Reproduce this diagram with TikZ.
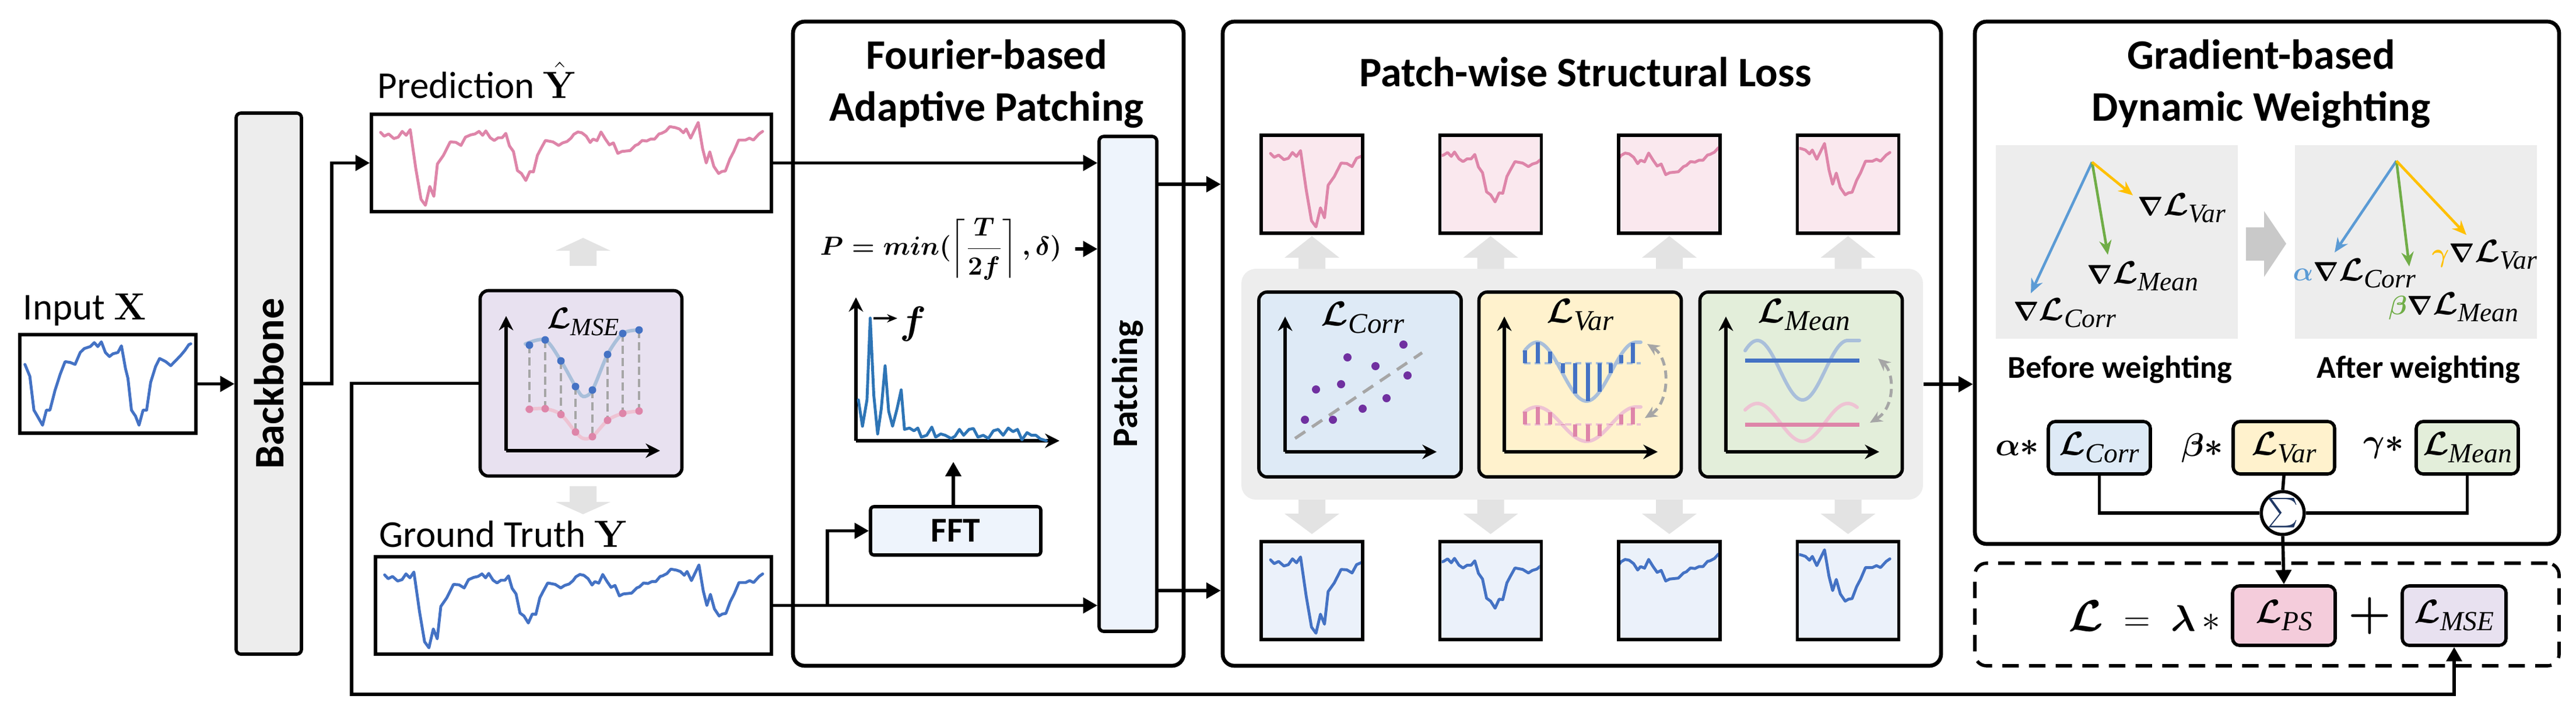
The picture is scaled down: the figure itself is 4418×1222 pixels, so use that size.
\RequirePackage{fix-cm}
\documentclass[tikz,border=0pt]{standalone}
\usepackage{amsmath}
\usepackage{graphicx}
\usepackage[no-math]{fontspec}
\setmainfont{Carlito}
\newfontfamily\subfont{Liberation Serif}
\usetikzlibrary{positioning, arrows.meta}

\definecolor{seriesblue}{HTML}{4472C4}
\definecolor{seriespink}{HTML}{DE85A9}
\definecolor{dotpurple}{HTML}{7030A0}
\definecolor{msefill}{HTML}{E8E1F0}
\definecolor{corrfill}{HTML}{DEEAF6}
\definecolor{varfill}{HTML}{FFF2CD}
\definecolor{meanfill}{HTML}{E3EEDA}
\definecolor{pinkpatch}{HTML}{FAE8EE}
\definecolor{bluepatch}{HTML}{EBF1FA}
\definecolor{patchfill}{HTML}{EEF4FC}
\definecolor{bbfill}{HTML}{EDEDED}
\definecolor{arrowgray}{HTML}{E3E3E3}
\definecolor{bggray}{HTML}{EDEDED}
\definecolor{bigarrow}{HTML}{C9C9C9}
\definecolor{psfill}{HTML}{F4CCDB}
\definecolor{gradblue}{HTML}{5B9BD5}
\definecolor{gradgreen}{HTML}{70AD47}
\definecolor{gradyellow}{HTML}{FFC000}
\definecolor{specblue}{HTML}{2E75B6}
\definecolor{dashgray}{HTML}{A6A6A6}
\definecolor{sumnavy}{HTML}{203864}
\definecolor{waveblue}{HTML}{A9BFDA}
\definecolor{wavepink}{HTML}{EEC3D3}

\tikzset{
  framebox/.style={draw, line width=1.6pt, inner sep=0pt},
  panel/.style={draw, line width=1.9pt, rounded corners=2mm, inner sep=0pt},
  wire/.style={line width=1.6pt},
  conn/.style={line width=1.6pt, -{Triangle[length=7pt,width=7.5pt]}},
  axisline/.style={line width=1.5pt, -{Stealth[length=7pt,width=7pt]}},
  series/.style={line width=1.4pt, line join=round, line cap=round},
  wave/.style={line width=1.7pt, line cap=round},
  curvedash/.style={dashgray, line width=1.4pt, dash pattern=on 4pt off 2.5pt,
    {Stealth[length=6pt,width=5.5pt]}-{Stealth[length=6pt,width=5.5pt]}},
  gradarrow/.style={line width=1.3pt, -{Stealth[length=7pt,width=6pt]}},
  boxlabel/.style={inner sep=0pt, anchor=base west, font=\fontsize{18.5}{20}\selectfont},
  titletext/.style={inner sep=0pt, anchor=base, font=\titlefont},
  losstitle/.style={inner sep=0pt, font=\fontsize{14}{16}\selectfont},
  gradlabel/.style={inner sep=0pt, font=\fontsize{13}{15}\selectfont},
  coef/.style={inner sep=0pt, font=\fontsize{16}{18}\selectfont},
  termbox/.style={framebox, rounded corners=1.2mm, font=\fontsize{13.5}{15}\selectfont}
}

% script L with an italic subscript
\newcommand\Lsub[1]{\scalebox{1.2}{$\boldsymbol{\mathcal{L}}$}\raisebox{-0.28em}{\subfont\itshape #1}}
\newcommand\titlefont{\fontsize{20.5}{24}\selectfont\bfseries}
% light gray block arrow: x, tail y, neck y, tip y
\newcommand\GrayArrow[4]{%
  \fill[arrowgray] (#1-23,#2) -- (#1-23,#3) -- (#1-47,#3) -- (#1,#4)
    -- (#1+47,#3) -- (#1+23,#3) -- (#1+23,#2) -- cycle;
}
% the forecast series, in a 100 x 100 box
\newcommand\DrawSeries[1]{%
  \draw[series,#1] plot coordinates {(2.3,18.6) (3.2,22.5) (4.3,20.2) (5.6,24.9)
    (6.7,23.5) (7.7,17.6) (8.7,21.6) (9.7,15.7) (11.1,55.9) (12.4,87.3) (13.5,93.5)
    (14.6,74.1) (15.6,84.3) (16.5,51.0) (18.0,42.2) (19.7,28.4) (21.1,28.8) (22.4,32.0)
    (23.5,23.5) (24.8,21.2) (25.9,20.2) (26.9,17.6) (27.8,21.6) (28.6,17.1) (29.7,24.1)
    (30.7,26.9) (31.7,24.1) (32.7,24.1) (33.6,19.6) (34.5,32.4) (35.5,38.2) (36.5,57.8)
    (37.5,60.8) (38.6,68.0) (39.6,58.8) (40.5,59.2) (41.5,42.2) (42.3,35.9) (43.5,26.9)
    (45.4,28.4) (46.8,32.0) (47.8,29.4) (48.9,28.0) (49.9,24.5) (50.6,20.6) (51.6,18.2)
    (52.6,19.0) (53.7,22.5) (54.7,29.0) (55.4,25.5) (56.4,27.1) (57.4,18.2) (58.5,25.5)
    (59.5,31.4) (60.5,29.4) (61.6,40.2) (62.6,38.2) (64.7,37.3) (66.0,32.0) (66.7,30.8)
    (67.7,26.9) (68.8,27.5) (69.8,25.5) (70.8,25.5) (71.9,20.2) (72.5,19.6) (73.6,17.3)
    (74.6,12.7) (76.0,13.7) (77.0,15.1) (78.0,19.0) (78.7,15.1) (79.8,24.5) (81.7,8.4)
    (82.8,35.3) (83.7,50.0) (84.6,38.6) (85.6,53.5) (86.8,60.8) (87.6,58.8) (88.5,58.2)
    (89.6,46.1) (90.6,38.2) (91.8,26.5) (93.5,26.5) (94.5,24.5) (95.5,26.5) (96.9,20.2)
    (97.8,17.6)};
}
% one quarter of the series in a patch: left x, top y, quarter, colour
\newcommand\DrawPatch[4]{%
  \begin{scope}
    \clip (#1+3,#2+3) rectangle (#1+171,#2+165);
    \begin{scope}[shift={(#1-#3*174,#2)}, xscale=6.96, yscale=1.68]
      \DrawSeries{#4}
    \end{scope}
  \end{scope}
}

\begin{document}
\begin{tikzpicture}[x=0.1mm, y=-0.1mm, font=\fontsize{17}{20}\selectfont]
\path[use as bounding box] (0,0) rectangle (4418,1222);

% input and backbone
\node[framebox, minimum width=30.2mm, minimum height=16.9mm] (inbox) at (185,658.5) {};
\node[boxlabel] (inlabel) at (39,548) {Input $\mathbf{X}$};
\begin{scope}[shift={(34,574)}, xscale=3.02, yscale=1.69]
  \draw[series, seriesblue] plot coordinates {(2.9,30.2) (5.7,42.3) (8.0,76.6) (10.0,82.7)
    (12.9,91.9) (15.1,76.6) (17.1,76.6) (20.0,56.5) (22.9,40.3) (25.7,27.4) (28.6,28.2)
    (31.4,30.2) (34.3,18.1) (36.6,14.1) (40.0,12.1) (42.3,8.1) (44.3,12.1) (46.3,7.3)
    (48.6,18.1) (50.9,22.2) (52.9,19.4) (55.7,18.1) (57.7,11.3) (60.0,34.3) (61.4,44.4)
    (63.4,76.6) (65.7,82.7) (67.7,91.9) (70.0,76.6) (72.0,76.6) (74.3,48.4) (77.1,32.3)
    (79.4,24.2) (82.9,27.4) (85.7,31.5) (88.6,26.2) (91.4,21.0) (93.7,16.1) (96.0,10.1)
    (97.1,9.3)};
\end{scope}
\node[framebox, fill=bbfill, rounded corners=0.8mm, minimum width=11.2mm, minimum height=92.8mm] (backbone) at (461,658) {};
\node[rotate=90, font=\titlefont] (bbtext) at (backbone) {Backbone};
\draw[conn] (inbox.east) -- (inbox.east -| backbone.west);

% prediction and ground truth
\node[framebox, minimum width=68.6mm, minimum height=16.7mm] (pred) at (980,279.5) {};
\node[boxlabel] (predlabel) at (647,168) {Prediction $\hat{\mathbf{Y}}$};
\begin{scope}[shift={(637,196)}, xscale=6.86, yscale=1.67]
  \DrawSeries{seriespink}
\end{scope}
\node[framebox, minimum width=67.9mm, minimum height=16.7mm] (gt) at (983.5,1038.5) {};
\node[boxlabel] (gtlabel) at (650,938) {Ground Truth $\mathbf{Y}$};
\begin{scope}[shift={(644,955)}, xscale=6.79, yscale=1.67]
  \DrawSeries{seriesblue}
\end{scope}
\draw[conn] (backbone.east) -- ++(49,0) |- (pred.west);

% MSE loss
\GrayArrow{1000}{456}{430}{408}
\GrayArrow{1000}{834}{861}{882}
\node[framebox, fill=msefill, rounded corners=1.4mm, minimum width=34.6mm, minimum height=31.8mm] (mse) at (996.5,657.5) {};
\draw[axisline] (868,773) -- (868,542);
\draw[axisline] (868,773) -- (1132,773);
\draw[wave, waveblue] plot[smooth] coordinates {(901,590) (935,583) (962,619) (987,663) (1000,680) (1016,669) (1042,608) (1068,572) (1096,566)};
\draw[wave, wavepink] plot[smooth] coordinates {(903,702) (935,701) (962,711) (987,741) (1000,752) (1016,749) (1042,721) (1068,709) (1096,705)};
\foreach \xp/\ya/\yb in {908/592/702, 935/583/701, 962/619/711, 987/663/741, 1016/669/749, 1042/608/721, 1068/572/709, 1096/566/705} {
  \draw[dashgray, line width=1.2pt, dash pattern=on 4pt off 2pt] (\xp,\ya) -- (\xp,\yb);
  \fill[seriesblue] (\xp,\ya) circle (6.5);
  \fill[seriespink] (\xp,\yb) circle (6.5);
}
\node[losstitle, font=\fontsize{12.2}{14}\selectfont] (msetitle) at (1000,552) {\Lsub{MSE}};

% Fourier-based adaptive patching
\node[panel, minimum width=67mm, minimum height=110.5mm] (fourier) at (1695,589.5) {};
\node[titletext] (ftitle1) at (1692,118) {Fourier-based};
\node[titletext] (ftitle2) at (1692,207) {Adaptive Patching};
\node[framebox, fill=patchfill, rounded corners=0.8mm, minimum width=9.9mm, minimum height=84.9mm] (patching) at (1934.5,658.5) {};
\node[rotate=90, font=\fontsize{17.5}{20}\selectfont\bfseries] (patchtext) at (patching) {Patching};
\node[inner sep=0pt, anchor=west, font=\fontsize{12.8}{15}\selectfont] (formula) at (1406,427) {$\displaystyle\boldsymbol{P = min(\left\lceil\frac{T}{2f}\right\rceil, \delta)}$};
\node[framebox, fill=patchfill, rounded corners=0.6mm, minimum width=29.2mm, minimum height=8.3mm, font=\fontsize{17}{20}\selectfont\bfseries] (fft) at (1639,910.5) {FFT};
\begin{scope}[shift={(1468,756)}]
  \draw[axisline] (0,0) -- (0,-246);
  \draw[axisline] (0,0) -- (349,0);
  \draw[series, specblue] plot coordinates {(4.1,-70.1) (11.2,-24.9) (18.9,-70.1) (24.5,-210.4)
    (30.6,-77.9) (37.2,-11.7) (43.4,-54.6) (50.0,-128.6) (56.1,-50.7) (62.8,-24.9) (70.4,-54.6)
    (77.6,-87.3) (83.2,-19.5) (91.8,-21.8) (99.5,-17.1) (106.1,-21.8) (112.2,-6.2) (121.4,-9.4)
    (130.1,-23.4) (136.7,-6.2) (145.4,-11.7) (153.1,-9.4) (163.3,-3.9) (169.9,-7.8) (177.5,-19.5)
    (184.7,-9.4) (193.9,-19.5) (201.5,-21.0) (209.2,-6.2) (218.4,-9.4) (227.0,-3.9) (235.7,-17.1)
    (243.9,-19.5) (252.5,-9.4) (261.2,-21.8) (269.4,-15.6) (277.0,-19.5) (284.7,-1.6) (293.4,-14.0)
    (301.0,-9.4) (308.7,-9.4) (316.3,-3.1) (326.5,0)};
  \draw[line width=1pt, -{Stealth[length=5pt,width=4pt]}] (30,-210) -- (71,-210);
  \node[inner sep=0pt, font=\fontsize{19}{20}\selectfont] (freq) at (98,-200) {$\boldsymbol{f}$};
\end{scope}
\coordinate (branch) at (1419,1038.5);
\draw[conn] (pred.east) -- (pred.east -| patching.west);
\draw[conn] (gt.east) -- (gt.east -| patching.west);
\draw[conn] (branch) |- (fft.west);
\draw[conn, shorten <=6.5pt] (formula.east) -- (formula.east -| patching.west);
\draw[conn] (fft.north -| 1635,0) -- ++(0,-74);

% patch-wise structural loss
\node[panel, minimum width=123.2mm, minimum height=110.5mm] (patchpanel) at (2713,589.5) {};
\node[titletext] (ptitle) at (2719,148) {Patch-wise Structural Loss};
\node[fill=bggray, rounded corners=2.5mm, minimum width=116.9mm, minimum height=39.6mm, inner sep=0pt] (bg) at (2713.5,659) {};
\foreach \q/\xc in {0/2250, 1/2556.5, 2/2863, 3/3169.5} {
  \node[framebox, fill=pinkpatch, minimum width=17.4mm, minimum height=16.8mm] (pt\q) at (\xc,316) {};
  \node[framebox, fill=bluepatch, minimum width=17.4mm, minimum height=16.8mm] (pb\q) at (\xc,1013) {};
  \DrawPatch{\xc-87}{232}{\q}{seriespink}
  \DrawPatch{\xc-87}{929}{\q}{seriesblue}
  \GrayArrow{\xc}{461}{442}{405}
  \GrayArrow{\xc}{857}{881}{916}
}
\draw[conn] (patching.east |- pt0) -- (patchpanel.west |- pt0);
\draw[conn] (patching.east |- pb0) -- (patchpanel.west |- pb0);

% correlation
\node[framebox, fill=corrfill, rounded corners=1.4mm, minimum width=34.7mm, minimum height=31.7mm] (corr) at (2332.5,659.5) {};
\draw[axisline] (2204,775) -- (2204,543);
\draw[axisline] (2204,775) -- (2464,775);
\draw[dashgray, line width=1.5pt, dash pattern=on 6pt off 4pt] (2221,752) -- (2439,605);
\foreach \dx/\dy in {2238/720, 2286/720, 2257/668, 2300/659, 2311/613, 2337/701, 2359/628, 2378/683, 2407/591, 2414/644}
  \fill[dotpurple] (\dx,\dy) circle (7);
\node[losstitle] (corrtitle) at (2337,545) {\Lsub{Corr}};

% variance
\node[framebox, fill=varfill, rounded corners=1.4mm, minimum width=34.7mm, minimum height=31.7mm] (var) at (2710,659.5) {};
\draw[axisline] (2580,775) -- (2580,543);
\draw[axisline] (2580,775) -- (2843,775);
\draw[wave, waveblue] plot[domain=2614:2805, samples=60] (\x,{637.5-50.5*cos((\x-2636)*2.1176)}) -- (2814,587);
\draw[wave, wavepink] plot[domain=2614:2805, samples=60] (\x,{727.5-29.5*cos((\x-2636)*2.1176)}) -- (2814,698);
\draw[waveblue, line width=1pt, dash pattern=on 3pt off 2pt] (2614,623) -- (2814,623);
\draw[wavepink, line width=1pt, dash pattern=on 3pt off 2pt] (2614,728) -- (2814,728);
\foreach \bx in {2615,2637,2658,2680,2701,2723,2743,2762,2780,2800} {
  \draw[seriesblue, line width=2pt] (\bx,623) -- (\bx,{637.5-50.5*cos((\bx-2636)*2.1176)});
  \draw[seriespink, line width=2pt] (\bx,728) -- (\bx,{727.5-29.5*cos((\bx-2636)*2.1176)});
}
\draw[curvedash] (2821,717) .. controls (2865,690) and (2865,615) .. (2825,590);
\node[losstitle] (vartitle) at (2710,540) {\Lsub{Var}};

% mean
\node[framebox, fill=meanfill, rounded corners=1.4mm, minimum width=34.7mm, minimum height=31.7mm] (mean) at (3089,659.5) {};
\draw[axisline] (2960,775) -- (2960,543);
\draw[axisline] (2960,775) -- (3223,775);
\draw[wave, waveblue] plot[domain=2993:3167, samples=60] (\x,{635-51*cos((\x-3014)*2.3226)}) -- (3189,584);
\draw[wave, wavepink] plot[domain=2993:3185, samples=60] (\x,{724.5-32.5*cos((\x-3014)*2.3226)});
\draw[seriesblue, line width=2pt] (2993,618) -- (3189,618);
\draw[seriespink, line width=2pt] (2993,728) -- (3189,728);
\draw[curvedash] (3207,725) .. controls (3250,700) and (3250,640) .. (3221,615);
\node[losstitle] (meantitle) at (3094,540) {\Lsub{Mean}};

% gradient-based dynamic weighting
\node[panel, minimum width=100.2mm, minimum height=89.6mm] (gradpanel) at (3888,485) {};
\node[titletext] (gtitle1) at (3878,118) {Gradient-based};
\node[titletext] (gtitle2) at (3878,207) {Dynamic Weighting};
\draw[conn] (bg.east) -- (bg.east -| gradpanel.west);
\node[fill=bggray, minimum width=41.5mm, minimum height=33.2mm, inner sep=0pt] (before) at (3630.5,415) {};
\node[fill=bggray, minimum width=41.5mm, minimum height=33.2mm, inner sep=0pt] (after) at (4143.5,415) {};
\fill[bigarrow] (3852,390) -- (3883,390) -- (3883,362) -- (3921,418) -- (3883,475) -- (3883,447) -- (3852,447) -- cycle;
\coordinate (borig) at (3588,278);
\draw[gradarrow, gradblue] (borig) -- (3483,503);
\draw[gradarrow, gradgreen] (borig) -- (3615,437);
\draw[gradarrow, gradyellow] (borig) -- (3658,335);
\node[gradlabel] (bvar) at (3742,357) {$\boldsymbol{\nabla}$\Lsub{Var}};
\node[gradlabel] (bmean) at (3675,474) {$\boldsymbol{\nabla}$\Lsub{Mean}};
\node[gradlabel] (bcorr) at (3541,537) {$\boldsymbol{\nabla}$\Lsub{Corr}};
\coordinate (aorig) at (4110,276);
\draw[gradarrow, gradblue] (aorig) -- (4004,433);
\draw[gradarrow, gradgreen] (aorig) -- (4132,457);
\draw[gradarrow, gradyellow] (aorig) -- (4230,403);
\node[gradlabel] (avar) at (4261,437) {$\textcolor{gradyellow}{\boldsymbol{\gamma}}\boldsymbol{\nabla}$\Lsub{Var}};
\node[gradlabel] (acorr) at (4038,469) {$\textcolor{gradblue}{\boldsymbol{\alpha}}\boldsymbol{\nabla}$\Lsub{Corr}};
\node[gradlabel] (amean) at (4208,527) {$\textcolor{gradgreen}{\boldsymbol{\beta}}\boldsymbol{\nabla}$\Lsub{Mean}};
\node[inner sep=0pt, anchor=base, font=\fontsize{15.5}{18}\selectfont\bfseries] (beforecap) at (3636,648) {Before weighting};
\node[inner sep=0pt, anchor=base, font=\fontsize{15.5}{18}\selectfont\bfseries] (aftercap) at (4148,648) {After weighting};

% weighted terms and their sum
\node[termbox, fill=corrfill, minimum width=17.5mm, minimum height=9mm] (wcorr) at (3600.5,768) {\Lsub{Corr}};
\node[termbox, fill=varfill, minimum width=17.4mm, minimum height=9mm] (wvar) at (3917,768) {\Lsub{Var}};
\node[termbox, fill=meanfill, minimum width=17.5mm, minimum height=9mm] (wmean) at (4231.5,768) {\Lsub{Mean}};
\node[coef, left=3.5pt of wcorr] (acoef) {$\boldsymbol{\alpha *}$};
\node[coef, left=4pt of wvar] (bcoef) {$\boldsymbol{\beta *}$};
\node[coef, left=5pt of wmean] (gcoef) {$\boldsymbol{\gamma *}$};
\node[draw, circle, line width=1.6pt, minimum size=6.8mm, inner sep=0pt, fill=white, font=\fontsize{15}{16}\selectfont] (sum) at (3915,880) {$\textcolor{sumnavy}{\sum}$};
\draw[wire] (wcorr.south) |- (sum.west);
\draw[wire] (wvar.south) -- (sum.north);
\draw[wire] (wmean.south) |- (sum.east);

% total loss
\node[draw, line width=1.6pt, dash pattern=on 8pt off 5pt, rounded corners=2mm, minimum width=100.2mm, minimum height=17.6mm, inner sep=0pt] (total) at (3888,1054) {};
\node[termbox, fill=psfill, minimum width=17.6mm, minimum height=10.2mm] (lps) at (3917,1056) {\Lsub{PS}};
\node[termbox, fill=msefill, minimum width=17.8mm, minimum height=10.2mm] (lmse) at (4209,1056) {\Lsub{MSE}};
\node[inner sep=0pt, left=5pt of lps, font=\fontsize{18}{22}\selectfont] (lhs) {\scalebox{1.2}{$\boldsymbol{\mathcal{L}}$}$\;\;=\;\boldsymbol{\lambda}\,*$};
\node[inner sep=0pt, font=\fontsize{24}{26}\selectfont] (plus) at (4064,1056) {$\boldsymbol{+}$};
\draw[conn] (sum.south) -- (lps.north);

% feedback of the MSE term
\coordinate (fbcorner) at (603,1191);
\draw[conn] (mse.west) -| (fbcorner) -| (lmse.south);
\end{tikzpicture}
\end{document}
